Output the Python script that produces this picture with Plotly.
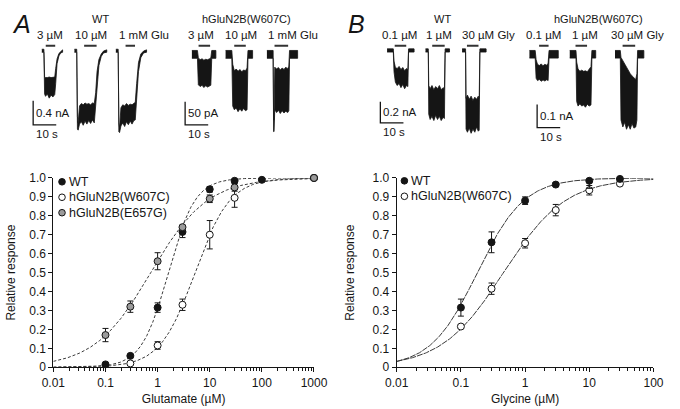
import numpy as np
import plotly.graph_objects as go

W, H = 680, 409
FONT = "Liberation Sans, Arial, Helvetica, sans-serif"
INK = "#151515"
CURVE = "#3a3a3a"
GRAY = "#9b9b9b"

# ---------------- dose-response data (Relative response) ----------------
glu_conc_wt = [0.1, 0.3, 1, 3, 10, 30, 100, 1000]
glu_wt = [0.015, 0.06, 0.315, 0.715, 0.94, 0.985, 0.99, 1.0]
glu_wt_err = [0.006, 0.006, 0.025, 0.03, 0.015, 0.006, 0.006, 0.0]

glu_conc_w607c = [0.3, 1, 3, 10, 30, 1000]
glu_w607c = [0.02, 0.115, 0.33, 0.70, 0.895, 1.0]
glu_w607c_err = [0.005, 0.02, 0.03, 0.075, 0.05, 0.0]

glu_conc_e657g = [0.1, 0.3, 1, 3, 10, 30, 1000]
glu_e657g = [0.17, 0.32, 0.56, 0.74, 0.89, 0.95, 1.0]
glu_e657g_err = [0.035, 0.03, 0.045, 0.01, 0.02, 0.02, 0.0]

gly_conc = [0.1, 0.3, 1, 3, 10, 30]
gly_wt = [0.315, 0.66, 0.88, 0.965, 0.985, 0.995]
gly_wt_err = [0.045, 0.055, 0.02, 0.01, 0.04, 0.01]
gly_w607c = [0.215, 0.415, 0.655, 0.83, 0.935, 0.97]
gly_w607c_err = [0.01, 0.03, 0.025, 0.03, 0.025, 0.01]

# Hill fit parameters (EC50 in uM, Hill coefficient)
glu_fit_ec50 = [1.6, 5.2, 0.74]      # WT, W607C, E657G
glu_fit_nh = [1.7, 1.3, 0.8]
gly_fit_ec50 = [0.18, 0.46]          # WT, W607C
gly_fit_nh = [1.2, 0.9]

# ---------------- current traces (time s, current) ----------------
# Panel A, WT (nA)
a_wt_3_t = [0, 0.9, 1.2, 1.6, 2.4, 3.2, 4.0, 4.8, 5.6, 6.0, 6.6, 7.4, 8.2, 9.0]
a_wt_3_hi = [0.02, 0.02, -0.44, -0.45, -0.45, -0.44, -0.45, -0.45, -0.44, -0.30, -0.14, -0.05, -0.01, 0.01]
a_wt_3_lo = [-0.03, -0.03, -0.72, -0.76, -0.72, -0.79, -0.74, -0.77, -0.73, -0.55, -0.22, -0.09, -0.04, -0.03]
a_wt_10_t = [0, 1.0, 1.3, 1.6, 2.2, 3.0, 3.8, 4.6, 5.4, 6.2, 7.0, 7.8, 8.6, 9.2, 9.8, 10.6, 11.6, 12.6, 14.0]
a_wt_10_hi = [0.02, 0.02, -1.1, -1.2, -0.92, -0.88, -0.9, -0.87, -0.89, -0.88, -0.9, -0.87, -0.88, -0.7, -0.35, -0.15, -0.06, -0.01, 0.01]
a_wt_10_lo = [-0.03, -0.03, -1.3, -1.32, -1.22, -1.18, -1.24, -1.17, -1.22, -1.16, -1.21, -1.15, -1.2, -1.0, -0.6, -0.25, -0.1, -0.04, -0.03]
a_wt_1m_t = [0, 1.0, 1.3, 1.6, 2.2, 3.0, 3.8, 4.6, 5.4, 6.2, 7.0, 7.8, 8.4, 9.0, 9.8, 10.8, 12.0, 13.3]
a_wt_1m_hi = [0.02, 0.02, -1.2, -1.28, -0.95, -0.9, -0.92, -0.88, -0.91, -0.89, -0.9, -0.88, -0.86, -0.55, -0.2, -0.06, -0.01, 0.01]
a_wt_1m_lo = [-0.03, -0.03, -1.35, -1.36, -1.25, -1.2, -1.26, -1.18, -1.23, -1.17, -1.22, -1.16, -1.15, -0.85, -0.35, -0.12, -0.04, -0.03]
a_wt_bar_on = [1.7, 4.2, 4.2]
a_wt_bar_off = [5.8, 9.6, 8.3]

# Panel A, hGluN2B(W607C) (pA)
a_mt_3_t = [0, 2.4, 2.8, 3.6, 4.4, 5.2, 6.0, 6.8, 7.6, 8.2, 8.6, 10.4]
a_mt_3_hi = [0, 0, -16, -20, -18, -21, -19, -20, -18, -16, 0, 0]
a_mt_3_lo = [-17, -17, -74, -78, -75, -80, -76, -79, -77, -75, -17, -17]
a_mt_10_t = [0, 2.7, 3.1, 3.8, 4.6, 5.4, 6.2, 7.0, 7.8, 8.6, 9.3, 9.7, 11.7]
a_mt_10_hi = [0, 0, -30, -44, -40, -45, -41, -46, -42, -44, -38, 0, 0]
a_mt_10_lo = [-17, -17, -120, -128, -124, -132, -126, -131, -125, -130, -128, -17, -17]
a_mt_1m_t = [0, 2.7, 2.9, 3.1, 3.4, 4.2, 5.0, 5.8, 6.6, 7.4, 8.2, 9.0, 9.5, 9.8, 13.3]
a_mt_1m_hi = [0, 0, -150, -150, -36, -40, -37, -42, -38, -41, -36, -40, -34, 0, 0]
a_mt_1m_lo = [-17, -17, -175, -175, -128, -134, -129, -136, -130, -135, -131, -134, -130, -17, -17]
a_mt_bar_on = [2.9, 3.75, 3.3]
a_mt_bar_off = [7.9, 8.75, 9.2]

# Panel B, WT (nA)
b_wt_01_t = [0, 2.7, 3.0, 3.6, 4.4, 5.2, 6.0, 6.8, 7.6, 8.4, 9.0, 9.3, 11.7]
b_wt_01_hi = [0.015, 0.015, -0.1, -0.16, -0.17, -0.15, -0.18, -0.16, -0.19, -0.17, -0.18, 0.015, 0.015]
b_wt_01_lo = [-0.015, -0.015, -0.2, -0.3, -0.33, -0.31, -0.35, -0.32, -0.36, -0.33, -0.34, -0.015, -0.015]
b_wt_1_t = [0, 1.2, 1.4, 2.0, 2.8, 3.6, 4.4, 5.2, 6.0, 6.8, 7.6, 8.2, 8.5, 10.4]
b_wt_1_hi = [0.015, 0.015, -0.33, -0.36, -0.33, -0.37, -0.34, -0.36, -0.33, -0.37, -0.35, -0.36, 0.015, 0.015]
b_wt_1_lo = [-0.015, -0.015, -0.6, -0.65, -0.62, -0.66, -0.61, -0.65, -0.62, -0.66, -0.63, -0.64, -0.015, -0.015]
b_wt_30_t = [0, 1.5, 1.7, 2.3, 3.1, 3.9, 4.7, 5.5, 6.3, 7.0, 7.4, 7.7, 10.4]
b_wt_30_hi = [0.015, 0.015, -0.45, -0.42, -0.46, -0.43, -0.47, -0.44, -0.46, -0.43, -0.45, 0.015, 0.015]
b_wt_30_lo = [-0.015, -0.015, -0.74, -0.77, -0.73, -0.78, -0.74, -0.77, -0.72, -0.76, -0.75, -0.015, -0.015]
b_wt_bar_on = [3.3, 2.9, 2.1]
b_wt_bar_off = [8.3, 8.3, 7.1]

# Panel B, hGluN2B(W607C) (nA)
b_mt_01_t = [0, 2.5, 2.9, 3.5, 4.3, 5.1, 5.9, 6.7, 7.5, 8.1, 8.5, 12.5]
b_mt_01_hi = [0, 0, -0.04, -0.06, -0.065, -0.058, -0.066, -0.06, -0.064, -0.055, 0, 0]
b_mt_01_lo = [-0.033, -0.033, -0.12, -0.13, -0.125, -0.133, -0.127, -0.132, -0.126, -0.13, -0.033, -0.033]
b_mt_1_t = [0, 2.7, 3.0, 3.6, 4.4, 5.2, 6.0, 6.8, 7.6, 8.4, 9.2, 9.6, 11.25]
b_mt_1_hi = [0, 0, -0.05, -0.08, -0.09, -0.085, -0.09, -0.088, -0.092, -0.08, -0.07, 0, 0]
b_mt_1_lo = [-0.033, -0.033, -0.22, -0.24, -0.23, -0.24, -0.235, -0.245, -0.232, -0.24, -0.235, -0.033, -0.033]
b_mt_30_t = [0, 2.3, 2.6, 3.4, 4.2, 5.0, 5.8, 6.6, 7.4, 8.2, 9.0, 9.5, 9.8, 12.5]
b_mt_30_hi = [0, 0, -0.03, -0.045, -0.06, -0.075, -0.09, -0.1, -0.11, -0.12, -0.125, -0.1, 0, 0]
b_mt_30_lo = [-0.033, -0.033, -0.3, -0.33, -0.31, -0.34, -0.32, -0.34, -0.315, -0.335, -0.33, -0.3, -0.033, -0.033]
b_mt_bar_on = [4.2, 2.5, 3.3]
b_mt_bar_off = [8.3, 7.5, 8.75]

# scale bar sizes
scale_amp = [0.4, 50, 0.2, 0.1]
scale_amp_text = ["0.4 nA", "50 pA", "0.2 nA", "0.1 nA"]
scale_time = 10
scale_time_text = "10 s"

conc_labels_A = ["3 µM", "10 µM", "1 mM Glu"]
conc_labels_B = ["0.1 µM", "1 µM", "30 µM Gly"]

# ---------------- layout helpers ----------------
def pxx(px):
    return px / W

def pxy(py):
    return 1 - py / H

PX_PER_S = 2.4
TR_TOP, TR_BOT = 36, 140
BAR_LIFT_PX = 5

groups = [
    dict(ax=3, box=(15, 150), base=45, ppu=62.5, starts=[6.67, 20.8, 38.75],
         traces=[(a_wt_3_t, a_wt_3_hi, a_wt_3_lo), (a_wt_10_t, a_wt_10_hi, a_wt_10_lo), (a_wt_1m_t, a_wt_1m_hi, a_wt_1m_lo)],
         bars=(a_wt_bar_on, a_wt_bar_off), sb=(22, 122), labels=conc_labels_A, label_x=[40, 82, 137]),
    dict(ax=4, box=(170, 305), base=45, ppu=0.48, starts=[7.1, 21.7, 39.6],
         traces=[(a_mt_3_t, a_mt_3_hi, a_mt_3_lo), (a_mt_10_t, a_mt_10_hi, a_mt_10_lo), (a_mt_1m_t, a_mt_1m_hi, a_mt_1m_lo)],
         bars=(a_mt_bar_on, a_mt_bar_off), sb=(180, 122), labels=conc_labels_A, label_x=[197, 238, 292]),
    dict(ax=5, box=(375, 500), base=45, ppu=110.0, starts=[6.25, 22.9, 38.75],
         traces=[(b_wt_01_t, b_wt_01_hi, b_wt_01_lo), (b_wt_1_t, b_wt_1_hi, b_wt_1_lo), (b_wt_30_t, b_wt_30_hi, b_wt_30_lo)],
         bars=(b_wt_bar_on, b_wt_bar_off), sb=(383, 120), labels=conc_labels_B, label_x=[403, 444, 495]),
    dict(ax=6, box=(530, 670), base=45, ppu=240.0, starts=[3.33, 20.8, 40.4],
         traces=[(b_mt_01_t, b_mt_01_hi, b_mt_01_lo), (b_mt_1_t, b_mt_1_hi, b_mt_1_lo), (b_mt_30_t, b_mt_30_hi, b_mt_30_lo)],
         bars=(b_mt_bar_on, b_mt_bar_off), sb=(546, 125), labels=conc_labels_B, label_x=[553, 596, 650]),
]

fig = go.Figure()
annotations = []
layout_axes = {}

for gi, g in enumerate(groups):
    ax = g["ax"]
    xa, ya = f"x{ax}", f"y{ax}"
    x0, x1 = g["box"]
    ppu = g["ppu"]
    base = g["base"]
    layout_axes[f"xaxis{ax}"] = dict(domain=[pxx(x0), pxx(x1)], range=[0, (x1 - x0) / PX_PER_S],
                                     visible=False, anchor=ya, fixedrange=True)
    layout_axes[f"yaxis{ax}"] = dict(domain=[pxy(TR_BOT), pxy(TR_TOP)],
                                     range=[-(TR_BOT - base) / ppu, (base - TR_TOP) / ppu],
                                     visible=False, anchor=xa, fixedrange=True)
    bar_y = BAR_LIFT_PX / ppu
    on, off = g["bars"]
    for k, (t, hi, lo) in enumerate(g["traces"]):
        s = g["starts"][k]
        xs = [s + v for v in t] + [s + v for v in t[::-1]]
        ys = list(hi) + list(lo[::-1])
        fig.add_trace(go.Scatter(x=xs, y=ys, mode="lines", fill="toself", fillcolor=INK,
                                 line=dict(color=INK, width=0.8), xaxis=xa, yaxis=ya,
                                 hoverinfo="skip"))
        fig.add_trace(go.Scatter(x=[s + on[k], s + off[k]], y=[bar_y, bar_y], mode="lines",
                                 line=dict(color="#333", width=2), xaxis=xa, yaxis=ya,
                                 hoverinfo="skip"))
    # scale bar
    sbx = (g["sb"][0] - x0) / PX_PER_S
    sby = -(g["sb"][1] - base) / ppu
    amp = scale_amp[gi]
    fig.add_trace(go.Scatter(x=[sbx, sbx, sbx + scale_time], y=[sby + amp, sby, sby], mode="lines",
                             line=dict(color=INK, width=1.3), xaxis=xa, yaxis=ya, hoverinfo="skip"))
    annotations.append(dict(x=sbx, y=sby + amp / 2, xref=xa, yref=ya, text=scale_amp_text[gi],
                            xanchor="left", yanchor="middle", xshift=1, showarrow=False,
                            font=dict(size=11.5, color=INK, family=FONT)))
    annotations.append(dict(x=sbx, y=sby, xref=xa, yref=ya, text=scale_time_text,
                            xanchor="left", yanchor="top", xshift=1, yshift=-1, showarrow=False,
                            font=dict(size=11.5, color=INK, family=FONT)))
    for lab, lx in zip(g["labels"], g["label_x"]):
        annotations.append(dict(x=pxx(lx), y=pxy(29), xref="paper", yref="paper", text=lab,
                                xanchor="center", yanchor="middle", showarrow=False,
                                font=dict(size=11.5, color=INK, family=FONT)))

# group titles and panel letters
for txt, px, py, sz in [("WT", 92, 12, 11), ("hGluN2B(W607C)", 244, 12, 11),
                        ("WT", 448, 12, 11), ("hGluN2B(W607C)", 610, 12, 11)]:
    annotations.append(dict(x=pxx(px), y=pxy(py), xref="paper", yref="paper", text=txt,
                            xanchor="center", yanchor="middle", showarrow=False,
                            font=dict(size=sz, color=INK, family=FONT)))
for txt, px, py in [("A", 10, 18), ("B", 358, 18)]:
    annotations.append(dict(x=pxx(px), y=pxy(py), xref="paper", yref="paper", text=txt,
                            xanchor="center", yanchor="middle", showarrow=False,
                            font=dict(size=25, color=INK, family=FONT, style="italic")))

# ---------------- dose-response plots ----------------
def hill(c, ec50, nh):
    return 1.0 / (1.0 + (ec50 / c) ** nh)

grid_glu = np.logspace(-2, 3, 400)
grid_gly = np.logspace(-2, 2, 400)

for ec, nh in zip(glu_fit_ec50, glu_fit_nh):
    fig.add_trace(go.Scatter(x=grid_glu, y=hill(grid_glu, ec, nh), mode="lines",
                             line=dict(color=CURVE, width=1, dash="3px,2px"),
                             xaxis="x", yaxis="y", hoverinfo="skip", cliponaxis=False))
for ec, nh in zip(gly_fit_ec50, gly_fit_nh):
    fig.add_trace(go.Scatter(x=grid_gly, y=hill(grid_gly, ec, nh), mode="lines",
                             line=dict(color=CURVE, width=1, dash="6px,1px"),
                             xaxis="x2", yaxis="y2", hoverinfo="skip", cliponaxis=False))

def pts(x, y, err, fill, xa, ya, name):
    return go.Scatter(x=x, y=y, mode="markers", name=name,
                      marker=dict(size=7, color=fill, line=dict(color=INK, width=1)),
                      error_y=dict(type="data", array=err, color=INK, thickness=1, width=3),
                      xaxis=xa, yaxis=ya, cliponaxis=False)

fig.add_trace(pts(glu_conc_w607c, glu_w607c, glu_w607c_err, "white", "x", "y", "hGluN2B(W607C)"))
fig.add_trace(pts(glu_conc_wt, glu_wt, glu_wt_err, INK, "x", "y", "WT"))
fig.add_trace(pts(glu_conc_e657g, glu_e657g, glu_e657g_err, GRAY, "x", "y", "hGluN2B(E657G)"))
fig.add_trace(pts(gly_conc, gly_w607c, gly_w607c_err, "white", "x2", "y2", "hGluN2B(W607C)"))
fig.add_trace(pts(gly_conc, gly_wt, gly_wt_err, INK, "x2", "y2", "WT"))

DR_TOP, DR_BOT = 177, 373
yticks = [i / 10 for i in range(11)]
ytext = ["0"] + [f"{v:.1f}" for v in yticks[1:]]

def minor_vals(lo, hi):
    out = []
    for d in range(lo, hi):
        for m in range(2, 10):
            out.append(m * 10.0 ** d)
    return out

axis_font = dict(size=12, color=INK, family=FONT)
common_y = dict(range=[0, 1], tickvals=yticks, ticktext=ytext, ticks="outside", ticklen=4,
                tickwidth=1, tickcolor=INK, showline=True, linecolor=INK, linewidth=1,
                showgrid=False, zeroline=False, tickfont=axis_font,
                domain=[pxy(DR_BOT), pxy(DR_TOP)])
common_x = dict(type="log", ticks="outside", ticklen=4, tickwidth=1, tickcolor=INK,
                showline=True, linecolor=INK, linewidth=1, showgrid=False, zeroline=False,
                tickfont=axis_font)

layout_axes["xaxis"] = dict(common_x, domain=[pxx(43), pxx(314)], range=[-2, 3], anchor="y",
                            tickvals=[0.01, 0.1, 1, 10, 100, 1000],
                            ticktext=["0.01", "0.1", "1", "10", "100", "1000"],
                            minor=dict(tickvals=minor_vals(-2, 3), ticks="outside", ticklen=2.5,
                                       tickcolor=INK, tickwidth=1, showgrid=False),
                            title=dict(text="Glutamate (µM)", font=axis_font, standoff=5))
layout_axes["yaxis"] = dict(common_y, anchor="x",
                            title=dict(text="Relative response", font=axis_font, standoff=11))
layout_axes["xaxis2"] = dict(common_x, domain=[pxx(400), pxx(667)], range=[-2, 2], anchor="y2",
                             tickvals=[0.01, 0.1, 1, 10, 100],
                             ticktext=["0.01", "0.1", "1", "10", "100"],
                             minor=dict(tickvals=minor_vals(-2, 2), ticks="outside", ticklen=2.5,
                                        tickcolor=INK, tickwidth=1, showgrid=False),
                             title=dict(text="Glycine (µM)", font=axis_font, standoff=5))
layout_axes["yaxis2"] = dict(common_y, anchor="x2",
                             title=dict(text="Relative response", font=axis_font, standoff=15))

# ---------------- legends (glyph + text) ----------------
shapes = []
legend_rows = [
    (52, 181, INK, "WT"), (52, 197, "white", "hGluN2B(W607C)"), (52, 213, GRAY, "hGluN2B(E657G)"),
    (408, 180, INK, "WT"), (408, 196, "white", "hGluN2B(W607C)"),
]
for lx, ly, fill, txt in legend_rows:
    shapes.append(dict(type="circle", xref="paper", yref="paper", xsizemode="pixel", ysizemode="pixel",
                       xanchor=pxx(lx), yanchor=pxy(ly), x0=-3.3, x1=3.3, y0=-3.3, y1=3.3,
                       fillcolor=fill, line=dict(color=INK, width=1)))
    annotations.append(dict(x=pxx(lx + 5), y=pxy(ly), xref="paper", yref="paper", text=txt,
                            xanchor="left", yanchor="middle", showarrow=False,
                            font=dict(size=12.5, color=INK, family=FONT)))

fig.update_layout(width=W, height=H, margin=dict(l=0, r=0, t=0, b=0), autosize=False,
                  paper_bgcolor="white", plot_bgcolor="white", showlegend=False,
                  font=dict(family=FONT, color=INK), annotations=annotations, shapes=shapes,
                  **layout_axes)

fig.write_html("out.html")
